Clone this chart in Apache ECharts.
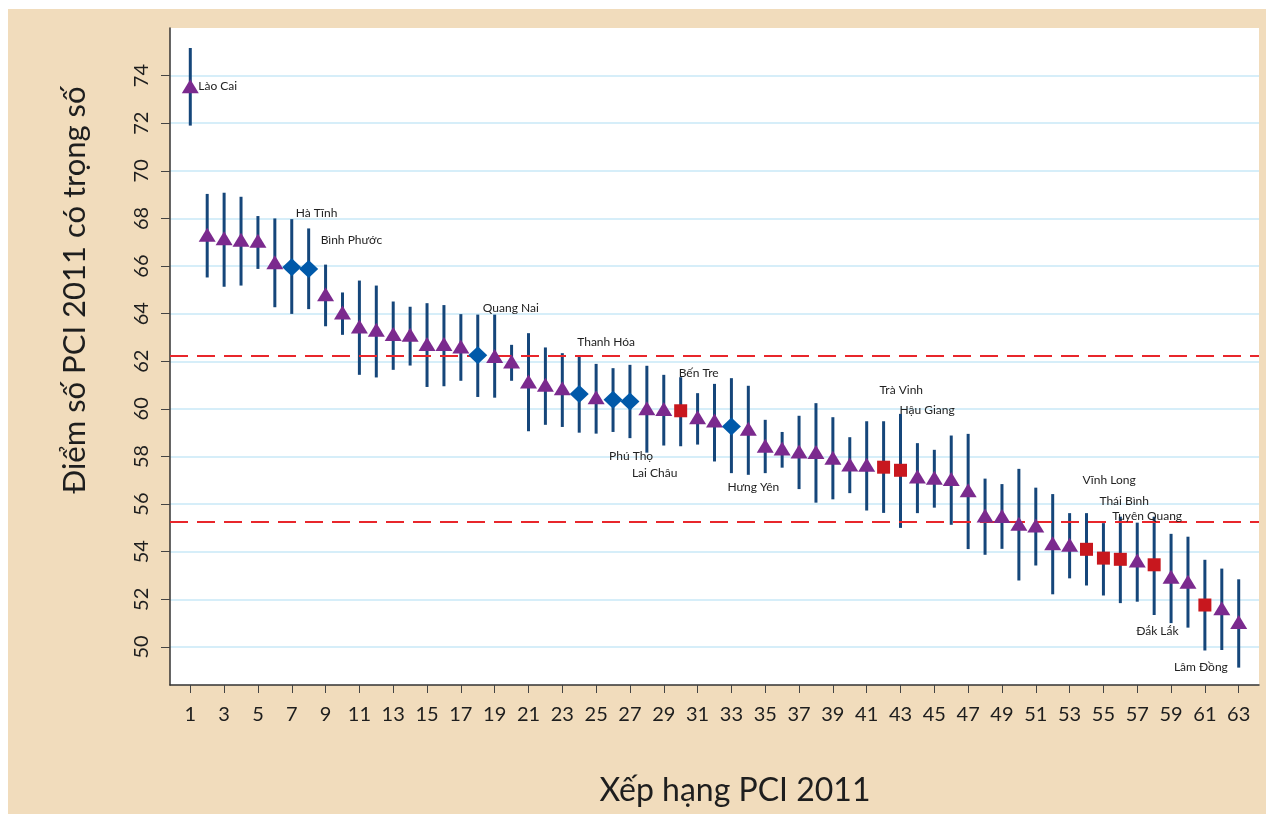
<!DOCTYPE html>
<html><head><meta charset="utf-8">
<script src="https://cdn.jsdelivr.net/npm/echarts@6/dist/echarts.min.js"></script>
<style>
html,body{margin:0;padding:0;background:#fff;}
#chart{position:absolute;left:8px;top:9px;width:1258px;height:805px;background:#f1dcbc;}
</style>
</head><body><div id="chart"></div>
<script>
// ---- data ----
const ranks = [1,2,3,4,5,6,7,8,9,10,11,12,13,14,15,16,17,18,19,20,21,22,23,24,25,26,27,28,29,30,31,32,33,34,35,36,37,38,39,40,41,42,43,44,45,46,47,48,49,50,51,52,53,54,55,56,57,58,59,60,61,62,63];
const scores = [73.55,67.31,67.17,67.10,67.06,66.16,65.95,65.88,64.82,64.05,63.46,63.32,63.14,63.11,62.73,62.72,62.62,62.25,62.22,61.99,61.15,61.01,60.87,60.62,60.49,60.38,60.31,60.03,59.99,59.92,59.65,59.51,59.26,59.16,58.45,58.33,58.21,58.19,57.95,57.66,57.65,57.55,57.42,57.16,57.11,57.05,56.58,55.52,55.50,55.17,55.10,54.36,54.29,54.10,53.73,53.68,53.63,53.45,52.95,52.74,51.76,51.62,51.05];
const lower = [71.90,65.52,65.13,65.18,65.88,64.27,63.99,64.19,63.47,63.11,61.43,61.32,61.64,61.82,60.92,60.95,61.18,60.50,60.47,61.18,59.06,59.33,59.24,59.00,58.96,59.03,58.77,58.16,58.46,58.43,58.50,57.79,57.30,57.23,57.30,57.53,56.63,56.06,56.20,56.46,55.73,55.63,55.00,55.62,55.85,55.13,54.11,53.87,54.12,52.79,53.42,52.21,52.88,52.58,52.16,51.84,51.90,51.34,51.00,50.81,49.85,49.87,49.13];
const upper = [75.16,69.03,69.08,68.91,68.10,68.00,67.97,67.58,66.06,64.89,65.39,65.18,64.51,64.29,64.44,64.36,63.98,63.96,63.96,62.69,63.18,62.58,62.34,62.21,61.89,61.71,61.85,61.81,61.43,61.33,60.66,61.05,61.29,60.97,59.54,59.03,59.71,60.24,59.65,58.81,59.48,59.48,59.79,58.56,58.28,58.88,58.95,57.07,56.84,57.48,56.69,56.42,55.62,55.62,55.20,55.47,55.22,55.47,54.75,54.63,53.66,53.29,52.84];
// marker group per rank: T = triangle, D = diamond, S = square
const groups = ['T','T','T','T','T','T','D','D','T','T','T','T','T','T','T','T','T','D','T','T','T','T','T','D','T','D','D','T','T','S','T','T','D','T','T','T','T','T','T','T','T','S','S','T','T','T','T','T','T','T','T','T','T','S','S','S','T','S','T','T','S','T','T'];
const labelRanks = [1,7,8,18,24,30,26,27,33,42,43,54,55,56,58,61];
const labelNames = ['Lào Cai','Hà Tĩnh','Bình Phước','Quang Nai','Thanh Hóa','Bến Tre','Phú Thọ','Lai Châu','Hưng Yên','Trà Vinh','Hậu Giang','Vĩnh Long','Thái Bình','Tuyên Quang','Đắk Lắk','Lâm Đồng'];
const refLines = [62.22, 55.24];
const xTicks = [1,3,5,7,9,11,13,15,17,19,21,23,25,27,29,31,33,35,37,39,41,43,45,47,49,51,53,55,57,59,61,63];
const yTicks = [50,52,54,56,58,60,62,64,66,68,70,72,74];
const xTitle = 'Xếp hạng PCI 2011';
const yTitle = 'Điểm số PCI 2011 có trọng số';

// ---- style ----
const labelOffsets = {1:[8,0],7:[4,-54],8:[12,-29],18:[5,-47],24:[-2,-52],30:[-2,-38],26:[-4,56],27:[2,72],33:[-4,61],42:[-4,-77],43:[-1,-60],54:[-4,-69],55:[-4,-57],56:[-8,-43],58:[-18,66],61:[-31,62]};
const FONT = 'Lato, "Open Sans", sans-serif';
const groupStyle = {
  T: {symbol:'triangle', size:[17,14], color:'#7b2a8e'},
  D: {symbol:'diamond', size:[19,18], color:'#0059a9'},
  S: {symbol:'rect', size:[13,13], color:'#c8171e'}
};

function buildData(g){
  const out = [];
  ranks.forEach((r,i)=>{
    if (groups[i] !== g) return;
    const item = {value:[r, scores[i]]};
    const li = labelRanks.indexOf(r);
    if (li >= 0) {
      item.label = {show:true, formatter: labelNames[li], position:'inside', align:'left', verticalAlign:'middle',
        offset: labelOffsets[r], fontSize:12, fontFamily:FONT, color:'#222'};
    }
    out.push(item);
  });
  return out;
}

const chart = echarts.init(document.getElementById('chart'));
const scatterSeries = ['T','D','S'].map(g => ({
  type:'scatter', name:g, data: buildData(g),
  symbol: groupStyle[g].symbol, symbolSize: groupStyle[g].size,
  itemStyle:{color: groupStyle[g].color, opacity:1}, z:5, silent:true
}));

chart.setOption({
  animation:false,
  grid:{left:162, top:19, right:7, bottom:129, show:true, backgroundColor:'#ffffff', borderWidth:0},
  xAxis:{type:'value', min:-0.2, max:64.2,
    axisLine:{show:true, onZero:false, lineStyle:{color:'#333', width:1.5}},
    axisTick:{show:true, customValues:xTicks, length:8, lineStyle:{color:'#444', width:1}},
    axisLabel:{customValues:xTicks, fontSize:20, fontFamily:FONT, color:'#1e1e1e', margin:20},
    splitLine:{show:false}},
  yAxis:{type:'value', min:48.4, max:76,
    axisLine:{show:true, onZero:false, lineStyle:{color:'#333', width:1.5}},
    axisTick:{show:true, customValues:yTicks, length:9, lineStyle:{color:'#444', width:1}},
    axisLabel:{customValues:yTicks, rotate:90, fontSize:20, fontFamily:FONT, color:'#1e1e1e', margin:18},
    splitLine:{show:true, lineStyle:{color:'#d6eef9', width:2}}},
  graphic:[
    {type:'text', x:727, y:782, style:{text:xTitle, font:'32px '+FONT, fill:'#1e1e1e', textAlign:'center', textVerticalAlign:'middle'}},
    {type:'text', x:67, y:281, rotation:Math.PI/2, style:{text:yTitle, font:'31px '+FONT, fill:'#1e1e1e', textAlign:'center', textVerticalAlign:'middle'}}
  ],
  series:[
    {type:'line', data:[], silent:true, z:1,
      markLine:{silent:true, symbol:'none', label:{show:false},
        lineStyle:{color:'#e8262b', width:2, type:[18,9]},
        data: refLines.map(v => ({yAxis:v}))}},
    {type:'custom', z:2, silent:true,
      data: ranks.map((r,i)=>[r, lower[i], upper[i]]),
      encode:{x:0, y:[1,2]},
      renderItem:function(params, api){
        const p1 = api.coord([api.value(0), api.value(1)]);
        const p2 = api.coord([api.value(0), api.value(2)]);
        return {type:'line', shape:{x1:p1[0], y1:p1[1], x2:p2[0], y2:p2[1]}, style:{stroke:'#15467a', lineWidth:3}};
      }},
    ...scatterSeries
  ]
});
</script>
</body></html>
